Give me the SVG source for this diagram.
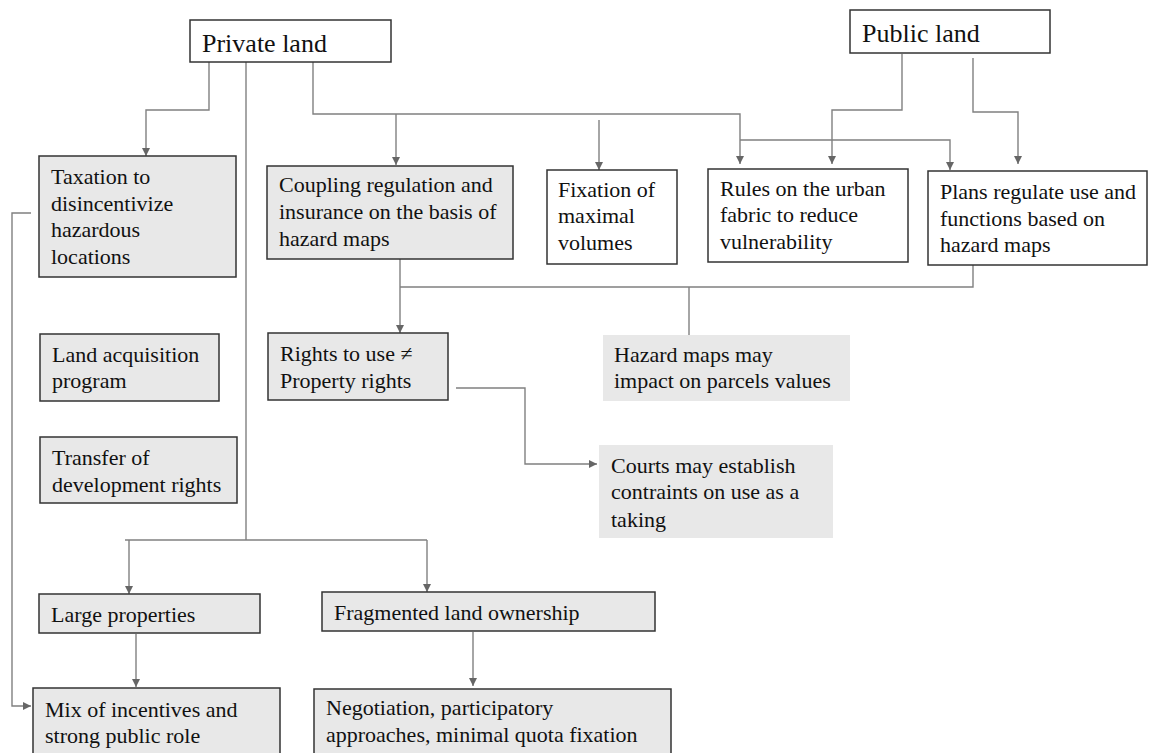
<svg xmlns="http://www.w3.org/2000/svg" width="1150" height="753" viewBox="0 0 1150 753">
<style>
.box{stroke:#333;stroke-width:1.5}
.w{fill:#fff}
.g{fill:#e8e8e8}
.nb{fill:#e8e8e8;stroke:none}
.t{font-size:22px;fill:#111}
.big{font-size:26px}
.c{fill:none;stroke:#808080;stroke-width:1.4}
</style>
<defs>
<marker id="ah" markerUnits="userSpaceOnUse" markerWidth="10" markerHeight="10" refX="9" refY="5" orient="auto">
<path d="M1,1 L9,5 L1,9 z" fill="#666"/>
</marker>
</defs>
<rect width="1150" height="753" fill="#fff"/>

<g id="connectors">
<polyline class="c" points="209,62 209,110 146,110 146,156" marker-end="url(#ah)"/>
<polyline class="c" points="246,62 246,540"/>
<polyline class="c" points="125,540 427,540"/>
<polyline class="c" points="129,540 129,594" marker-end="url(#ah)"/>
<polyline class="c" points="427,540 427,592" marker-end="url(#ah)"/>
<polyline class="c" points="313,62 313,114 740,114 740,164" marker-end="url(#ah)"/>
<polyline class="c" points="396,114 396,165" marker-end="url(#ah)"/>
<polyline class="c" points="740,140 950,140 950,170" marker-end="url(#ah)"/>
<polyline class="c" points="599,120 599,170" marker-end="url(#ah)"/>
<polyline class="c" points="902,54 902,110 832,110 832,164" marker-end="url(#ah)"/>
<polyline class="c" points="973,58 973,112 1018,112 1018,164" marker-end="url(#ah)"/>
<polyline class="c" points="400,259 400,333" marker-end="url(#ah)"/>
<polyline class="c" points="400,287 973,287 973,265"/>
<polyline class="c" points="689,287 689,343" marker-end="url(#ah)"/>
<polyline class="c" points="456,388 525,388 525,464 597,464" marker-end="url(#ah)"/>
<polyline class="c" points="136,634 136,687" marker-end="url(#ah)"/>
<polyline class="c" points="473,632 473,686" marker-end="url(#ah)"/>
<polyline class="c" points="31,213 12,213 12,706 31,706" marker-end="url(#ah)"/>
</g>

<g id="nodes" font-family="Liberation Serif, Times New Roman, serif">
<g id="private-land">
<rect class="box w" x="190" y="20" width="201" height="42"/>
<text class="t big" x="202" y="52">Private land</text>
</g>
<g id="public-land">
<rect class="box w" x="850" y="10" width="200" height="43"/>
<text class="t big" x="862" y="42">Public land</text>
</g>
<g id="taxation">
<rect class="box g" x="39" y="156" width="197" height="121"/>
<text class="t" x="51" y="184">Taxation to</text>
<text class="t" x="51" y="211">disincentivize</text>
<text class="t" x="51" y="237">hazardous</text>
<text class="t" x="51" y="264">locations</text>
</g>
<g id="coupling">
<rect class="box g" x="267" y="166" width="246" height="93"/>
<text class="t" x="279" y="192">Coupling regulation and</text>
<text class="t" x="279" y="219">insurance on the basis of</text>
<text class="t" x="279" y="246">hazard maps</text>
</g>
<g id="fixation">
<rect class="box w" x="547" y="170" width="130" height="94"/>
<text class="t" x="558" y="197">Fixation of</text>
<text class="t" x="558" y="223">maximal</text>
<text class="t" x="558" y="250">volumes</text>
</g>
<g id="rules">
<rect class="box w" x="708" y="169" width="200" height="93"/>
<text class="t" x="720" y="196">Rules on the urban</text>
<text class="t" x="720" y="222">fabric to reduce</text>
<text class="t" x="720" y="249">vulnerability</text>
</g>
<g id="plans">
<rect class="box w" x="928" y="171" width="219" height="94"/>
<text class="t" x="940" y="199">Plans regulate use and</text>
<text class="t" x="940" y="226">functions based on</text>
<text class="t" x="940" y="252">hazard maps</text>
</g>
<g id="land-acquisition">
<rect class="box g" x="40" y="334" width="179" height="67"/>
<text class="t" x="52" y="362">Land acquisition</text>
<text class="t" x="52" y="388">program</text>
</g>
<g id="transfer">
<rect class="box g" x="40" y="437" width="197" height="66"/>
<text class="t" x="52" y="465">Transfer of</text>
<text class="t" x="52" y="492">development rights</text>
</g>
<g id="rights">
<rect class="box g" x="268" y="333" width="180" height="67"/>
<text class="t" x="280" y="361">Rights to use ≠</text>
<text class="t" x="280" y="388">Property rights</text>
</g>
<g id="hazard-maps">
<rect class="nb" x="603" y="335" width="247" height="66"/>
<text class="t" x="614" y="362">Hazard maps may</text>
<text class="t" x="614" y="388">impact on parcels values</text>
</g>
<g id="courts">
<rect class="nb" x="599" y="445" width="234" height="93"/>
<text class="t" x="611" y="473">Courts may establish</text>
<text class="t" x="611" y="499">contraints on use as a</text>
<text class="t" x="611" y="527">taking</text>
</g>
<g id="large-properties">
<rect class="box g" x="39" y="594" width="221" height="39"/>
<text class="t" x="51" y="622">Large properties</text>
</g>
<g id="fragmented">
<rect class="box g" x="322" y="592" width="333" height="39"/>
<text class="t" x="334" y="620">Fragmented land ownership</text>
</g>
<g id="mix">
<rect class="box g" x="33" y="688" width="247" height="80"/>
<text class="t" x="45" y="717">Mix of incentives and</text>
<text class="t" x="45" y="743">strong public role</text>
</g>
<g id="negotiation">
<rect class="box g" x="314" y="689" width="357" height="80"/>
<text class="t" x="326" y="715">Negotiation, participatory</text>
<text class="t" x="326" y="742">approaches, minimal quota fixation</text>
</g>
</g>
</svg>
